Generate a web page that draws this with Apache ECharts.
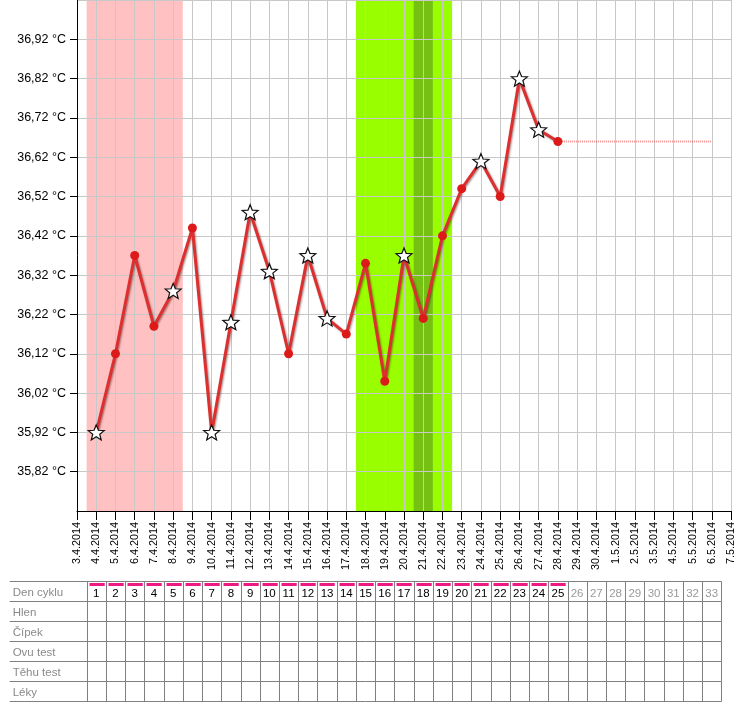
<!DOCTYPE html>
<html>
<head>
<meta charset="utf-8">
<script src="https://cdn.jsdelivr.net/npm/echarts@6/dist/echarts.min.js"></script>
<style>
html,body{margin:0;padding:0;background:#fff;}
#chart{width:740px;height:720px;}
</style>
</head>
<body>
<div id="chart"></div>
<script>
// ---- data ----
const dates = ['3.4.2014','4.4.2014','5.4.2014','6.4.2014','7.4.2014','8.4.2014','9.4.2014','10.4.2014',
  '11.4.2014','12.4.2014','13.4.2014','14.4.2014','15.4.2014','16.4.2014','17.4.2014','18.4.2014',
  '19.4.2014','20.4.2014','21.4.2014','22.4.2014','23.4.2014','24.4.2014','25.4.2014','26.4.2014',
  '27.4.2014','28.4.2014','29.4.2014','30.4.2014','1.5.2014','2.5.2014','3.5.2014','4.5.2014',
  '5.5.2014','6.5.2014','7.5.2014'];
// temperatures for cycle days 1..25 (4.4.2014 .. 28.4.2014)
const temps = [35.92, 36.12, 36.37, 36.19, 36.28, 36.44, 35.92, 36.20, 36.48, 36.33, 36.12, 36.37,
  36.21, 36.17, 36.35, 36.05, 36.37, 36.21, 36.42, 36.54, 36.61, 36.52, 36.82, 36.69, 36.66];
const starDays = [1, 5, 7, 8, 9, 10, 12, 13, 17, 21, 23, 24];
const periodDays = [1, 5];
const fertileDays = [15, 19];
const ovulationDay = 18;
const projectionEndDay = 33;
const yMin = 35.72, yMax = 37.02, yStep = 0.1;
const tableRows = ['Den cyklu', 'Hlen', 'Čípek', 'Ovu test', 'Těhu test', 'Léky'];
const cycleDays = [1,2,3,4,5,6,7,8,9,10,11,12,13,14,15,16,17,18,19,20,21,22,23,24,25,26,27,28,29,30,31,32,33];

// ---- helpers ----
const FONT = "'Liberation Sans', Arial, sans-serif";
const STAR = 'path://M50,0 L62.9,32.3 L97.6,34.5 L70.8,56.8 L79.4,90.5 L50,72 L20.6,90.5 L29.2,56.8 L2.4,34.5 L37.1,32.3 Z';

const mainData = temps.map((v, i) => {
  const day = i + 1;
  if (starDays.indexOf(day) >= 0) {
    return {
      value: [day, v], symbol: STAR, symbolSize: [16, 15],
      itemStyle: {color: '#ffffff', borderColor: '#111', borderWidth: 1.2}
    };
  }
  return {value: [day, v]};
});
const lastDay = temps.length;
const lastTemp = temps[temps.length - 1];

function crisp(v) { return Math.round(v) + 0.5; }

function renderTable(params, api) {
  const r = params.dataIndex;
  const unit = api.size([1, 0])[0];
  const xAt = d => api.coord([d, 0])[0];
  const top = crisp(api.coord([0, r])[1]);
  const bot = crisp(api.coord([0, r + 1])[1]);
  const left = xAt(-3.5);
  const right = crisp(xAt(cycleDays.length + 0.5));
  const ls = {stroke: '#808080', lineWidth: 1};
  const ch = [];
  ch.push({type: 'line', shape: {x1: left, y1: top, x2: right, y2: top}, style: ls});
  if (r === tableRows.length - 1) {
    ch.push({type: 'line', shape: {x1: left, y1: bot, x2: right, y2: bot}, style: ls});
  }
  for (let c = 0; c <= cycleDays.length; c++) {
    const x = crisp(xAt(c + 0.5));
    ch.push({type: 'line', shape: {x1: x, y1: top, x2: x, y2: bot}, style: ls});
  }
  const mid = (top + bot) / 2;
  ch.push({type: 'text', style: {text: tableRows[r], x: left + 3, y: mid + 1,
    align: 'left', verticalAlign: 'middle', fill: '#8a8a8a', fontSize: 11.5, fontFamily: FONT}});
  if (r === 0) {
    cycleDays.forEach(d => {
      const recorded = d <= temps.length;
      const x0 = crisp(xAt(d - 0.5));
      if (recorded) {
        ch.push({type: 'rect', shape: {x: x0 + 2, y: top + 1.5, width: unit - 4, height: 3},
          style: {fill: '#ee1a84'}});
      }
      ch.push({type: 'text', style: {text: String(d), x: xAt(d), y: mid + 2,
        align: 'center', verticalAlign: 'middle', fill: recorded ? '#000' : '#999',
        fontSize: 11.5, fontFamily: FONT}});
    });
  }
  return {type: 'group', children: ch};
}

const chart = echarts.init(document.getElementById('chart'), null, {renderer: 'canvas'});
chart.setOption({
  animation: false,
  backgroundColor: '#fff',
  grid: [
    {left: 77, right: 9, top: 0, height: 511},
    {left: 77, right: 9, top: 581, height: 120}
  ],
  xAxis: [{
    type: 'value', gridIndex: 0, min: 0, max: dates.length - 1, interval: 1, z: 3,
    axisLine: {show: true, onZero: false, lineStyle: {color: '#000', width: 1}},
    axisTick: {show: true, length: 9, lineStyle: {color: '#000'}},
    axisLabel: {rotate: 90, margin: 11, fontSize: 10.8, fontFamily: FONT, color: '#000',
      formatter: v => dates[Math.round(v)] || ''},
    splitLine: {show: true, lineStyle: {color: '#c8c8c8', width: 1}}
  }, {
    type: 'value', gridIndex: 1, min: 0, max: dates.length - 1, show: false
  }],
  yAxis: [{
    type: 'value', gridIndex: 0, min: yMin, max: yMax, interval: yStep, z: 3,
    axisLine: {show: true, lineStyle: {color: '#000', width: 1}},
    axisTick: {show: true, length: 7, lineStyle: {color: '#000'}},
    axisLabel: {margin: 11, fontSize: 12.5, fontFamily: FONT, color: '#000',
      showMinLabel: false, showMaxLabel: false,
      formatter: v => v.toFixed(2).replace('.', ',') + ' °C'},
    splitLine: {show: true, lineStyle: {color: '#c8c8c8', width: 1}}
  }, {
    type: 'value', gridIndex: 1, min: 0, max: tableRows.length, inverse: true, show: false
  }],
  series: [{
    type: 'line', xAxisIndex: 0, yAxisIndex: 0, z: 1, data: [], silent: true,
    markArea: {
      silent: true,
      data: [
        [{xAxis: periodDays[0] - 0.5, itemStyle: {color: '#ffc1c1'}}, {xAxis: periodDays[1] + 0.5}],
        [{xAxis: fertileDays[0] - 0.5, itemStyle: {color: '#99ff00'}}, {xAxis: fertileDays[1] + 0.5}],
        [{xAxis: ovulationDay - 0.5, itemStyle: {color: '#76c014'}}, {xAxis: ovulationDay + 0.5}]
      ]
    }
  }, {
    type: 'line', xAxisIndex: 0, yAxisIndex: 0, z: 4, silent: true,
    symbol: 'none',
    data: [[lastDay, lastTemp], [projectionEndDay, lastTemp]],
    lineStyle: {color: 'rgba(235,70,70,0.6)', width: 2, type: [1, 1]}
  }, {
    type: 'line', xAxisIndex: 0, yAxisIndex: 0, z: 5, silent: true,
    data: mainData,
    symbol: 'circle', symbolSize: 9, showSymbol: true,
    itemStyle: {color: '#dd1a1a'},
    lineStyle: {color: '#dc3030', width: 3, shadowColor: 'rgba(60,0,0,0.45)', shadowBlur: 2,
      shadowOffsetX: 1, shadowOffsetY: 1}
  }, {
    type: 'custom', xAxisIndex: 1, yAxisIndex: 1, silent: true, clip: false,
    data: tableRows.map((n, r) => [0, r]),
    renderItem: renderTable
  }]
});
</script>
</body>
</html>
